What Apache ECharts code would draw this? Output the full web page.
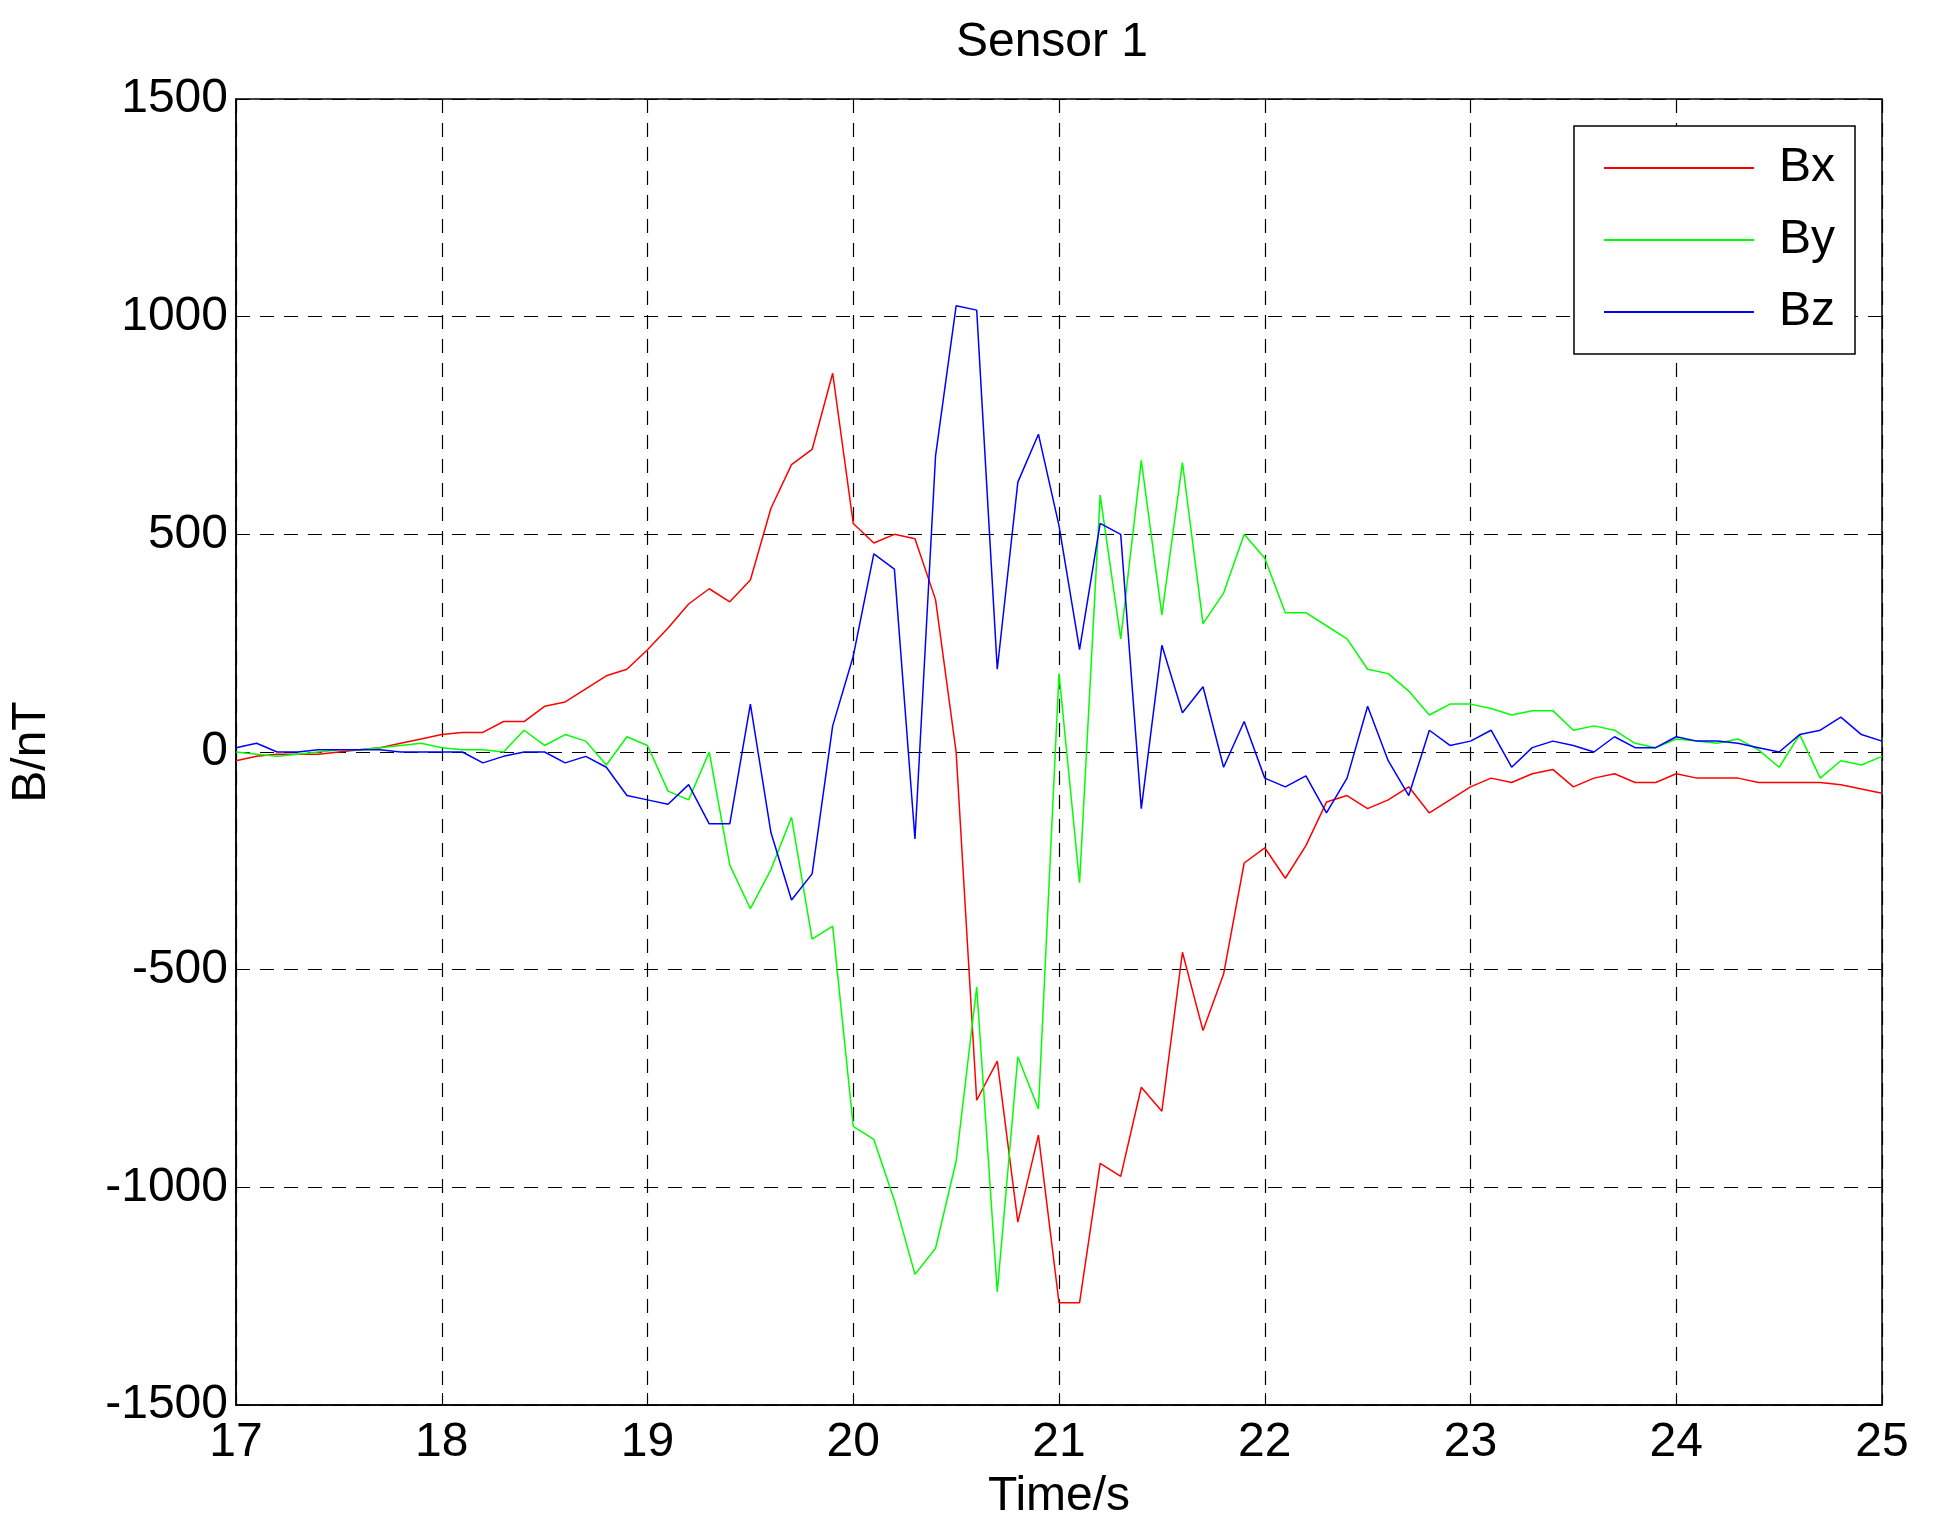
<!DOCTYPE html>
<html><head><meta charset="utf-8">
<script src="https://cdn.jsdelivr.net/npm/echarts@6/dist/echarts.min.js"></script>
<style>html,body{margin:0;background:#fff}#c{width:1943px;height:1538px}</style>
</head><body><div id="c"></div>
<script>
// time samples 17.0 .. 25.0 s, step 0.1
const times = []
for (let i = 0; i <= 80; i++) times.push(+(17 + i / 10).toFixed(1))

const bx = [-20,-10,-5,-5,-5,0,5,10,20,30,
	40,45,45,70,70,105,115,145,175,190,
	235,285,340,375,345,395,560,660,695,870,
	525,480,500,490,350,0,-800,-710,-1080,-880,
	-1265,-1265,-945,-975,-770,-825,-460,-640,-510,-255,
	-220,-290,-215,-115,-100,-130,-110,-80,-140,-110,
	-80,-60,-70,-50,-40,-80,-60,-50,-70,-70,
	-50,-60,-60,-60,-70,-70,-70,-70,-75,-85,-95]
const by = [0,-5,-10,-5,0,5,5,10,15,20,
	10,5,5,0,50,15,40,25,-30,35,
	15,-90,-110,0,-260,-360,-270,-150,-430,-400,
	-860,-890,-1030,-1200,-1140,-940,-540,-1240,-700,-820,
	180,-300,590,260,670,315,665,295,365,500,
	445,320,320,290,260,190,180,140,85,110,
	110,100,85,95,95,50,60,50,20,10,
	30,25,20,30,5,-35,40,-60,-20,-30,-10]
const bz = [10,20,0,0,5,5,5,5,0,0,
	0,0,-25,-10,0,0,-25,-10,-35,-100,
	-110,-120,-75,-165,-165,110,-185,-340,-280,60,
	220,455,420,-200,680,1025,1015,190,620,730,
	520,235,525,500,-130,245,90,150,-35,70,
	-60,-80,-55,-140,-60,105,-20,-100,50,15,
	25,50,-35,10,25,15,0,35,10,10,
	35,25,25,20,10,0,40,50,80,40,25]

const pair = arr => arr.map((v, i) => [times[i], v])
const font = 'Liberation Sans, Arial, sans-serif'
const split = { show: true, lineStyle: { color: '#000', type: [14, 10], width: 1.2 } }

const chart = echarts.init(document.getElementById('c'))
chart.setOption({
	animation: false,
	backgroundColor: '#fff',
	title: { text: 'Sensor 1', left: 1047, textAlign: 'center', top: 14, textStyle: { fontFamily: font, fontSize: 48, fontWeight: 'normal', color: '#000' } },
	grid: { left: 222, right: 61, top: 99, bottom: 133, show: true, borderColor: '#000', borderWidth: 1.5 },
	legend: {
		orient: 'vertical', right: 88, top: 126, itemWidth: 150, itemHeight: 2, itemGap: 24,
		padding: [18, 20, 18, 30], borderColor: '#000', borderWidth: 1.5, backgroundColor: '#fff',
		icon: 'rect', textStyle: { fontFamily: font, fontSize: 48, color: '#000', padding: [0, 0, 0, 20] },
		data: ['Bx', 'By', 'Bz']
	},
	xAxis: {
		type: 'value', min: 17, max: 25, interval: 1, name: 'Time/s', nameLocation: 'middle', nameGap: 68,
		nameTextStyle: { fontFamily: font, fontSize: 48, color: '#000' },
		axisLine: { onZero: false, lineStyle: { color: '#000', width: 1.5 } },
		axisTick: { inside: true, length: 12, lineStyle: { color: '#000' } },
		axisLabel: { fontFamily: font, fontSize: 48, color: '#000', margin: 14 },
		splitLine: split
	},
	yAxis: {
		type: 'value', min: -1500, max: 1500, interval: 500, name: 'B/nT', nameLocation: 'middle', nameGap: 180,
		nameTextStyle: { fontFamily: font, fontSize: 48, color: '#000' },
		axisLine: { show: true, onZero: false, lineStyle: { color: '#000', width: 1.5 } },
		axisTick: { show: true, inside: true, length: 12, lineStyle: { color: '#000' } },
		axisLabel: { fontFamily: font, fontSize: 48, color: '#000', margin: 8, formatter: v => String(v) },
		splitLine: split
	},
	series: [
		{ name: 'Bx', type: 'line', data: pair(bx), showSymbol: false, lineStyle: { color: '#ff0000', width: 1.5 }, itemStyle: { color: '#ff0000' } },
		{ name: 'By', type: 'line', data: pair(by), showSymbol: false, lineStyle: { color: '#00ff00', width: 1.5 }, itemStyle: { color: '#00ff00' } },
		{ name: 'Bz', type: 'line', data: pair(bz), showSymbol: false, lineStyle: { color: '#0000ff', width: 1.5 }, itemStyle: { color: '#0000ff' } }
	]
})
</script></body></html>
